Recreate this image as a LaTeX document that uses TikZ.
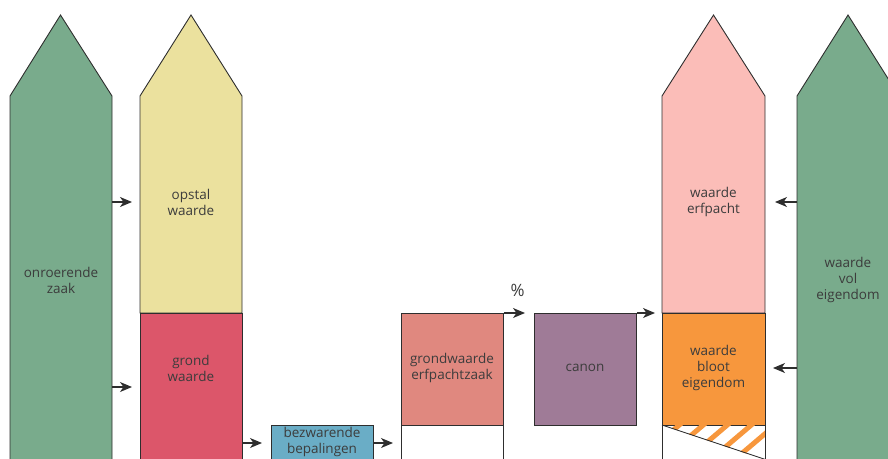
\documentclass[tikz,border=0pt]{standalone}
\usepackage{fontspec}
\setmainfont{Open Sans}
\usetikzlibrary{arrows.meta}
\definecolor{cgreen}{HTML}{79AB8C}
\definecolor{cyellow}{HTML}{EBE19E}
\definecolor{cred}{HTML}{DC566A}
\definecolor{cblue}{HTML}{6AADC6}
\definecolor{csalmon}{HTML}{E0887F}
\definecolor{cpurple}{HTML}{9F7B97}
\definecolor{cpink}{HTML}{FBBDB8}
\definecolor{corange}{HTML}{F7973D}
\definecolor{cline}{HTML}{2E2E2E}
\definecolor{ctext}{HTML}{3C3C3C}
\begin{document}
\begin{tikzpicture}[x=1pt,y=-1pt,
  outline/.style={draw=cline,line width=0.9pt,line join=miter},
  box/.style={outline,rectangle,inner sep=0pt,anchor=north west},
  lbl/.style={text=ctext,align=center,inner sep=0pt,font=\fontsize{13.5}{16}\selectfont},
  arr/.style={draw=cline,line width=1.1pt,-{Stealth[length=12pt,width=10pt,inset=3.5pt]}},
  stripe/.style={draw=corange,line width=5pt}]
\useasboundingbox (0,0) rectangle (888,458);
\clip (0,0) rectangle (888,458);
% columns
\filldraw[outline,fill=cgreen] (10,470) -- (10,96) -- (60.5,15) -- (112,96) -- (112,470) -- cycle;
\filldraw[outline,fill=cyellow] (140,313) -- (140,96) -- (191,15) -- (242,96) -- (242,313) -- cycle;
\node[box,fill=cred,minimum width=102pt,minimum height=160pt] (gr) at (140,313) {};
\filldraw[outline,fill=cpink] (662,313) -- (662,96) -- (713.5,15) -- (765,96) -- (765,313) -- cycle;
\node[box,fill=corange,minimum width=103pt,minimum height=112pt] (wb) at (662,313) {};
\filldraw[outline,fill=cgreen] (797,470) -- (797,96) -- (848,15) -- (899,96) -- (899,470) -- cycle;
% hatched part below bloot eigendom
\begin{scope}
  \clip (662,425) -- (765,425) -- (765,460) -- cycle;
  \foreach \x in {678,702,726,750,774} {\draw[stripe] (\x+6,421) -- (\x-34,455);}
\end{scope}
\draw[outline] (662,425) -- (662,470) (765,425) -- (765,470);
\draw[outline] (662,425) -- (770,461);
% boxes
\node[box,fill=cblue,minimum width=102pt,minimum height=40pt] (bez) at (271,425) {};
\node[box,fill=csalmon,minimum width=102pt,minimum height=112pt] (gw) at (401,313) {};
\draw[outline] (401,425) -- (401,470) (503,425) -- (503,470);
\node[box,fill=cpurple,minimum width=102pt,minimum height=112pt] (canon) at (534,313) {};
% labels
\node[lbl] (tonr) at (61,280) {onroerende\\zaak};
\node[lbl] (topst) at (191,202) {opstal\\waarde};
\node[lbl] (tgrond) at (191,368) {grond\\waarde};
\node[lbl] (tbez) at (322,442) {bezwarende\\bepalingen};
\node[lbl] (tgw) at (452,368) {grondwaarde\\erfpachtzaak};
\node[lbl] (tcanon) at (585,368) {canon};
\node[lbl] (terf) at (713.5,202) {waarde\\erfpacht};
\node[lbl] (tbloot) at (713.5,368) {waarde\\bloot\\eigendom};
\node[lbl] (tvol) at (848,280) {waarde\\vol\\eigendom};
\node[lbl,font=\fontsize{17}{20}\selectfont] (tpct) at (517.5,290) {\%};
% arrow end points
\coordinate (a1s) at (112,202); \coordinate (a1e) at (132,202);
\coordinate (a2s) at (112,387); \coordinate (a2e) at (132,387);
\coordinate (a3s) at (242,443); \coordinate (a3e) at (262,443);
\coordinate (a4s) at (373,443); \coordinate (a4e) at (393,443);
\coordinate (a7s) at (797,202); \coordinate (a7e) at (775,202);
\coordinate (a8s) at (797,368); \coordinate (a8e) at (773,368);
% arrows
\draw[arr] (a1s) -- (a1e);
\draw[arr] (a2s) -- (a2e);
\draw[arr] (a3s) -- (a3e);
\draw[arr] (a4s) -- (a4e);
\draw[arr,shorten >=9pt] (gw.north east) -- (canon.north west);
\draw[arr,shorten >=7pt] (canon.north east) -- (wb.north west);
\draw[arr] (a7s) -- (a7e);
\draw[arr] (a8s) -- (a8e);
\end{tikzpicture}
\end{document}
